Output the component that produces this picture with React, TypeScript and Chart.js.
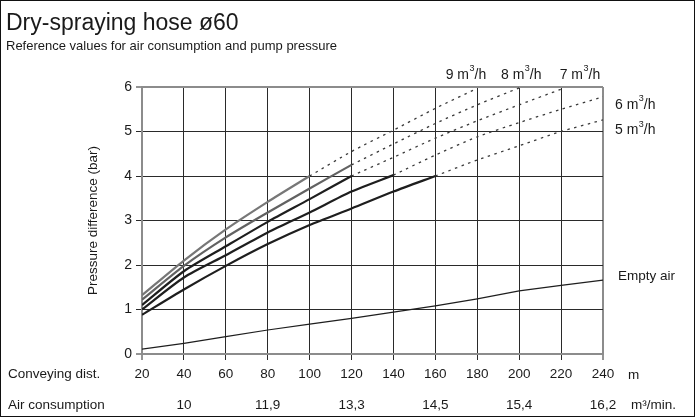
import React, { useEffect, useRef } from "react";
import { Chart, registerables } from "chart.js";

Chart.register(...registerables);

// ---------- data ----------
const distances = [20, 40, 60, 80, 100, 120, 140, 160, 180, 200, 220, 240];

const curveNames = ["9", "8", "7", "6", "5"];
const pressure9 = [1.32, 2.1, 2.8, 3.42, 4.0, 4.55, 5.03, 5.52, 5.97];
const pressure8 = [1.22, 1.98, 2.62, 3.18, 3.72, 4.25, 4.72, 5.18, 5.6, 5.98];
const pressure7 = [1.1, 1.86, 2.42, 2.97, 3.48, 4.0, 4.42, 4.85, 5.24, 5.6, 5.95];
const pressure6 = [1.0, 1.72, 2.22, 2.73, 3.18, 3.65, 4.02, 4.47, 4.88, 5.2, 5.5, 5.78];
const pressure5 = [0.88, 1.45, 1.98, 2.47, 2.9, 3.27, 3.65, 4.0, 4.36, 4.68, 5.0, 5.26];
const solidUntil = [100, 120, 120, 140, 160];
const curveColors = ["#777777", "#626262", "#1e1e1e", "#1e1e1e", "#1e1e1e"];

const emptyAir = [0.11, 0.24, 0.39, 0.54, 0.67, 0.8, 0.94, 1.08, 1.24, 1.42, 1.54, 1.66];

const airConsumptionAt = [40, 80, 120, 160, 200, 240];
const airConsumption = ["10", "11,9", "13,3", "14,5", "15,4", "16,2"];

const yTicks = [0, 1, 2, 3, 4, 5, 6];

const FONT = "Arial, 'Liberation Sans', sans-serif";
const TEXT = "#1a1a1a";

function makePoints(vals: number[]) {
  return vals.map((v, i) => ({ x: distances[i], y: v }));
}

export default function App() {
  const ref = useRef<HTMLCanvasElement | null>(null);

  useEffect(() => {
    document.body.style.margin = "0";
    const canvas = ref.current!;
    const allCurves = [pressure9, pressure8, pressure7, pressure6, pressure5];

    const datasets: any[] = [];
    allCurves.forEach((vals, k) => {
      const pts = makePoints(vals);
      datasets.push({
        label: curveNames[k] + " solid",
        data: pts.filter((p) => p.x <= solidUntil[k]),
        borderColor: curveColors[k],
        borderWidth: 2.2,
        pointRadius: 0,
        tension: 0.25,
        fill: false,
      });
      datasets.push({
        label: curveNames[k] + " dotted",
        data: pts.filter((p) => p.x >= solidUntil[k]),
        borderColor: "#3a3a3a",
        borderWidth: 1.3,
        borderDash: [2.5, 4.5],
        pointRadius: 0,
        tension: 0.25,
        fill: false,
      });
    });
    datasets.push({
      label: "Empty air",
      data: makePoints(emptyAir),
      borderColor: "#1e1e1e",
      borderWidth: 1.2,
      pointRadius: 0,
      tension: 0,
      fill: false,
    });

    const drawUnit = (
      ctx: CanvasRenderingContext2D,
      num: string,
      x: number,
      y: number,
      align: "center" | "left"
    ) => {
      ctx.save();
      ctx.textBaseline = "middle";
      ctx.textAlign = "left";
      const main = `${num} m`;
      ctx.font = `14px ${FONT}`;
      const w1 = ctx.measureText(main).width;
      const w3 = ctx.measureText("/h").width;
      ctx.font = `9px ${FONT}`;
      const w2 = ctx.measureText("3").width + 0.5;
      const total = w1 + w2 + w3;
      const x0 = align === "center" ? x - total / 2 : x;
      ctx.font = `14px ${FONT}`;
      ctx.fillText(main, x0, y);
      ctx.font = `9px ${FONT}`;
      ctx.fillText("3", x0 + w1 + 0.5, y - 6);
      ctx.font = `14px ${FONT}`;
      ctx.fillText("/h", x0 + w1 + w2, y);
      ctx.restore();
    };

    const textPlugin = {
      id: "texts",
      afterDraw(chart: any) {
        const ctx: CanvasRenderingContext2D = chart.ctx;
        const xs = chart.scales.x;
        const ys = chart.scales.y;
        const area = chart.chartArea;
        ctx.save();
        // frame
        ctx.strokeStyle = "#111";
        ctx.lineWidth = 1;
        ctx.strokeRect(0.5, 0.5, chart.width - 2, chart.height - 2);
        ctx.fillStyle = TEXT;
        // title
        ctx.textAlign = "left";
        ctx.textBaseline = "alphabetic";
        ctx.font = `23px ${FONT}`;
        ctx.fillText("Dry-spraying hose ø60", 6, 30);
        ctx.font = `13px ${FONT}`;
        ctx.fillText("Reference values for air consumption and pump pressure", 6, 50);
        // y axis title
        ctx.save();
        ctx.translate(93, (area.top + area.bottom) / 2);
        ctx.rotate(-Math.PI / 2);
        ctx.textAlign = "center";
        ctx.textBaseline = "middle";
        ctx.font = `13.5px ${FONT}`;
        ctx.fillText("Pressure difference (bar)", 0, 0);
        ctx.restore();
        // row labels
        const row1 = area.bottom + 6 + 6 + 8.1;
        const row2 = row1 + 31;
        ctx.textBaseline = "middle";
        ctx.textAlign = "left";
        ctx.font = `13.5px ${FONT}`;
        ctx.fillText("Conveying dist.", 8, row1);
        ctx.fillText("Air consumption", 8, row2);
        ctx.fillText("m", xs.right + 25, row1 + 1);
        ctx.fillText("m³/min.", xs.right + 28, row2);
        ctx.textAlign = "center";
        airConsumption.forEach((lab, i) => {
          ctx.fillText(lab, xs.getPixelForValue(airConsumptionAt[i]), row2);
        });
        // curve labels
        drawUnit(ctx, "9", xs.getPixelForValue(174.6), area.top - 12, "center");
        drawUnit(ctx, "8", xs.getPixelForValue(201), area.top - 12, "center");
        drawUnit(ctx, "7", xs.getPixelForValue(229), area.top - 12, "center");
        drawUnit(ctx, "6", area.right + 12, ys.getPixelForValue(5.6), "left");
        drawUnit(ctx, "5", area.right + 12, ys.getPixelForValue(5.03), "left");
        ctx.textAlign = "left";
        ctx.textBaseline = "middle";
        ctx.font = `13.5px ${FONT}`;
        ctx.fillText("Empty air", area.right + 15, ys.getPixelForValue(1.75));
        ctx.restore();
      },
    };

    const chart = new Chart(canvas, {
      type: "line",
      data: { datasets },
      plugins: [textPlugin],
      options: {
        animation: false,
        responsive: false,
        devicePixelRatio: 1,
        layout: { padding: { left: 0, top: 87, right: 93, bottom: 0 } },
        plugins: {
          legend: { display: false },
          tooltip: { enabled: false },
          title: { display: false },
        },
        scales: {
          x: {
            type: "linear",
            min: 20,
            max: 240,
            afterFit: (s: any) => {
              s.height = 64;
            },
            afterBuildTicks: (s: any) => {
              s.ticks = distances.map((v) => ({ value: v }));
            },
            ticks: {
              color: TEXT,
              font: { family: FONT, size: 13.5 },
              padding: 6,
              maxRotation: 0,
              autoSkip: false,
            },
            grid: {
              color: (c: any) =>
                c.tick && (c.tick.value === 20 || c.tick.value === 240) ? "#8c8c8c" : "#2a2a2a",
              lineWidth: (c: any) =>
                c.tick && (c.tick.value === 20 || c.tick.value === 240) ? 2 : 1,
              tickLength: 6,
              tickColor: "#2a2a2a",
              tickWidth: 1,
            },
            border: { display: true, color: "#8c8c8c", width: 2 },
          },
          y: {
            type: "linear",
            min: 0,
            max: 6,
            afterFit: (s: any) => {
              s.width = 142;
            },
            afterBuildTicks: (s: any) => {
              s.ticks = yTicks.map((v) => ({ value: v }));
            },
            ticks: {
              color: TEXT,
              font: { family: FONT, size: 14 },
              padding: 4,
            },
            grid: {
              color: (c: any) =>
                c.tick && (c.tick.value === 0 || c.tick.value === 6) ? "#8c8c8c" : "#2a2a2a",
              lineWidth: (c: any) =>
                c.tick && (c.tick.value === 0 || c.tick.value === 6) ? 2 : 1,
              tickLength: 6,
              tickColor: "#2a2a2a",
              tickWidth: 1,
            },
            border: { display: true, color: "#8c8c8c", width: 2 },
          },
        },
      } as any,
    });
    return () => chart.destroy();
  }, []);

  return <canvas ref={ref} width={696} height={418} style={{ display: "block" }} />;
}
